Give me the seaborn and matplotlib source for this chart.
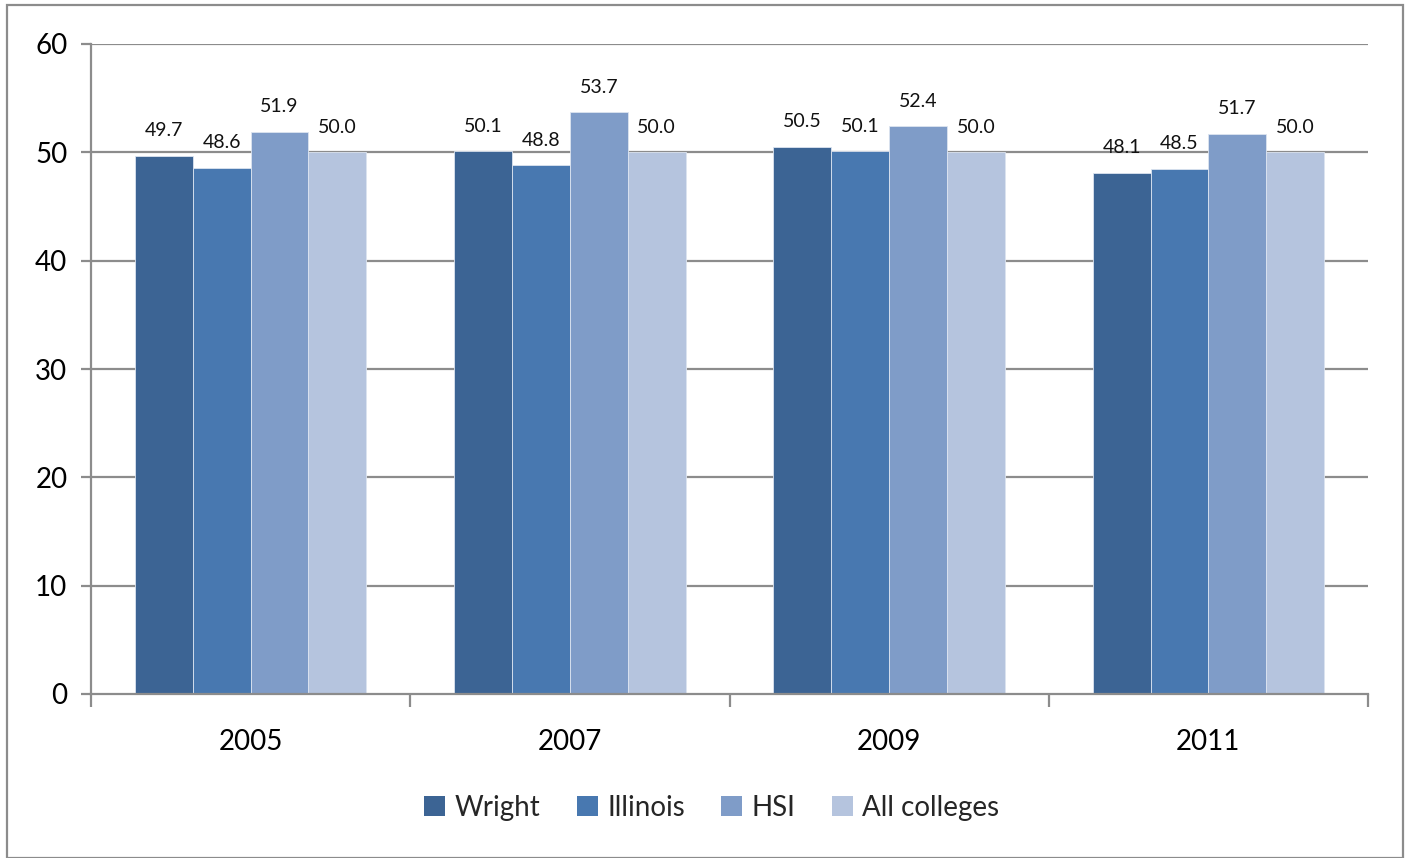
import matplotlib
matplotlib.use("Agg")
import matplotlib.pyplot as plt
import matplotlib.patches as mpatches
from matplotlib.ticker import FixedLocator, NullFormatter
import seaborn as sns
import pandas as pd

years = ["2005", "2007", "2009", "2011"]
series = ["Wright", "Illinois", "HSI", "All colleges"]
wright = [49.7, 50.1, 50.5, 48.1]
illinois = [48.6, 48.8, 50.1, 48.5]
hsi = [51.9, 53.7, 52.4, 51.7]
all_colleges = [50.0, 50.0, 50.0, 50.0]
colors = ["#3C6494", "#4878B0", "#7F9CC8", "#B5C4DE"]

values = {"Wright": wright, "Illinois": illinois, "HSI": hsi, "All colleges": all_colleges}
df = pd.DataFrame(
    [(y, s, values[s][i]) for s in series for i, y in enumerate(years)],
    columns=["year", "series", "value"],
)

sns.set_theme(style="white")
plt.rcParams["font.family"] = ["Lato", "DejaVu Sans"]

fig = plt.figure(figsize=(14.08, 8.58), dpi=100)
ax = fig.add_axes([91 / 1408, 1 - 694 / 858, (1368 - 91) / 1408, (694 - 44) / 858])

grid_c = "#8C8C8C"
ax.set_ylim(0, 60)
ax.set_yticks(range(0, 61, 10))
for yv in range(10, 61, 10):
    ax.axhline(yv, color=grid_c, lw=1.6, zorder=0)

sns.barplot(
    data=df, x="year", y="value", hue="series", hue_order=series, order=years,
    palette=colors, saturation=1, width=0.725, gap=0, ax=ax, errorbar=None,
    edgecolor="#DCE4F0", linewidth=0.6, legend=False, zorder=2,
)

for cont in ax.containers:
    ax.bar_label(cont, fmt="%.1f", padding=12, fontsize=14, color="#111111")

ax.set_xlim(-0.5, 3.5)
for side in ("top", "right"):
    ax.spines[side].set_visible(False)
for side in ("left", "bottom"):
    ax.spines[side].set_color(grid_c)
    ax.spines[side].set_linewidth(1.6)

# tick marks at category boundaries, labels at centres
ax.xaxis.set_major_locator(FixedLocator([-0.5, 0.5, 1.5, 2.5, 3.5]))
ax.xaxis.set_major_formatter(NullFormatter())
ax.xaxis.set_minor_locator(FixedLocator([0, 1, 2, 3]))
ax.set_xticklabels(years, minor=True)
ax.tick_params(axis="x", which="major", direction="out", length=9, width=1.6, color=grid_c, bottom=True)
ax.tick_params(axis="x", which="minor", length=0, pad=25, labelsize=20, labelcolor="black")
ax.tick_params(axis="y", direction="out", length=7, width=1.6, color=grid_c, left=True,
               labelsize=20, labelcolor="black", pad=10)
ax.set_xlabel("")
ax.set_ylabel("")

handles = [mpatches.Patch(facecolor=c, edgecolor="none", label=s) for c, s in zip(colors, series)]
fig.legend(handles=handles, loc="center", bbox_to_anchor=(712 / 1408, 1 - 808 / 858), ncol=4,
           frameon=False, fontsize=20, handlelength=0.75, handleheight=0.75, handletextpad=0.35,
           columnspacing=1.3)

# outer chart border
fig.add_artist(mpatches.Rectangle((7 / 1408, 0.0), 1396 / 1408, 1 - 5 / 858,
                                  transform=fig.transFigure, fill=False,
                                  edgecolor="#8C8C8C", lw=1.6))

fig.savefig("out.png", dpi=100)
